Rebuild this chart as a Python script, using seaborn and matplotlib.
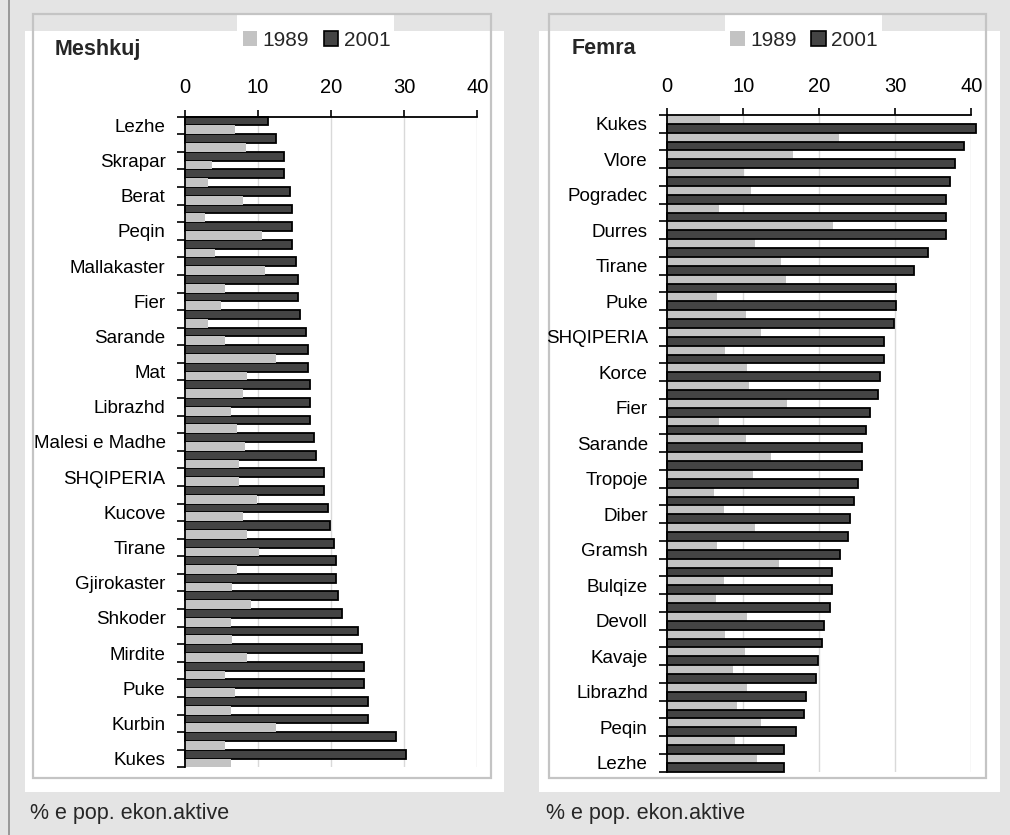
import matplotlib
matplotlib.use("Agg")
import matplotlib.pyplot as plt
import matplotlib.colors as mcolors
import seaborn as sns
import pandas as pd
from matplotlib.patches import Rectangle, Patch
from matplotlib.lines import Line2D

# Meshkuj (men), top to bottom; only every other row carries a label
m_labels = ["Lezhe", "", "Skrapar", "", "Berat", "", "Peqin", "", "Mallakaster", "",
            "Fier", "", "Sarande", "", "Mat", "", "Librazhd", "", "Malesi e Madhe", "",
            "SHQIPERIA", "", "Kucove", "", "Tirane", "", "Gjirokaster", "", "Shkoder", "",
            "Mirdite", "", "Puke", "", "Kurbin", "", "Kukes"]
m1989 = [6.8, 8.4, 3.7, 3.2, 7.9, 2.7, 10.5, 4.1, 10.9, 5.5, 4.9, 3.2, 5.5, 12.5, 8.5,
         8.0, 6.3, 7.1, 8.2, 7.4, 7.4, 9.8, 8.0, 8.5, 10.1, 7.1, 6.5, 9.0, 6.3, 6.5,
         8.5, 5.5, 6.8, 6.3, 12.5, 5.5, 6.3]
m2001 = [11.3, 12.4, 13.5, 13.5, 14.4, 14.6, 14.6, 14.6, 15.2, 15.4, 15.4, 15.7, 16.5,
         16.8, 16.8, 17.1, 17.1, 17.1, 17.6, 17.9, 19.0, 19.0, 19.6, 19.8, 20.4, 20.7,
         20.7, 20.9, 21.5, 23.7, 24.2, 24.5, 24.5, 25.0, 25.0, 28.9, 30.2]

# Femra (women)
f_labels = ["Kukes", "", "Vlore", "", "Pogradec", "", "Durres", "", "Tirane", "",
            "Puke", "", "SHQIPERIA", "", "Korce", "", "Fier", "", "Sarande", "",
            "Tropoje", "", "Diber", "", "Gramsh", "", "Bulqize", "", "Devoll", "",
            "Kavaje", "", "Librazhd", "", "Peqin", "", "Lezhe"]
f1989 = [6.9, 22.6, 16.6, 10.1, 11.0, 6.8, 21.8, 11.5, 15.0, 15.6, 6.5, 10.3, 12.3,
         7.6, 10.5, 10.8, 15.8, 6.8, 10.3, 13.6, 11.3, 6.1, 7.4, 11.5, 6.6, 14.7, 7.4,
         6.4, 10.5, 7.6, 10.2, 8.7, 10.5, 9.2, 12.3, 8.9, 11.8]
f2001 = [40.6, 39.1, 37.8, 37.2, 36.7, 36.7, 36.7, 34.3, 32.5, 30.1, 30.1, 29.8, 28.5,
         28.5, 28.0, 27.7, 26.7, 26.1, 25.6, 25.6, 25.1, 24.6, 24.0, 23.8, 22.7, 21.7,
         21.7, 21.4, 20.6, 20.4, 19.8, 19.6, 18.2, 18.0, 16.9, 15.4, 15.4]

years = ["1989", "2001"]
x_ticks = [0, 10, 20, 30, 40]
footer = "% e pop. ekon.aktive"

W, H = 1010, 835
LIGHT = "#c3c3c3"
DARK = "#444444"
BG = "#e4e4e4"

sns.set_style("white")
plt.rcParams["font.family"] = ["Liberation Sans", "DejaVu Sans"]

fig = plt.figure(figsize=(W / 100, H / 100), dpi=100, facecolor=BG)


def box(x0, y0, x1, y1, **kw):
    # pixel box, measured from top-left of the picture
    r = Rectangle((x0 / W, 1 - y1 / H), (x1 - x0) / W, (y1 - y0) / H,
                  transform=fig.transFigure, figure=fig, zorder=-5, **kw)
    fig.patches.append(r)


def panel(rect, labels, v1989, v2001, hue_order, title, title_x, leg_x, foot_x):
    n = len(labels)
    slots = [str(i) for i in range(n)]
    df = pd.DataFrame({
        "slot": slots + slots,
        "val": v1989 + v2001,
        "year": [years[0]] * n + [years[1]] * n,
    })
    ax = fig.add_axes(rect)
    sns.barplot(data=df, x="val", y="slot", hue="year", order=slots,
                hue_order=hue_order, palette={years[0]: LIGHT, years[1]: DARK},
                width=1.0, gap=0, dodge=True, errorbar=None, legend=False,
                saturation=1, edgecolor="none", linewidth=0, ax=ax)
    dark_rgba = mcolors.to_rgba(DARK)
    for cont in ax.containers:
        for bar in cont:
            bar.set_clip_on(False)
            if tuple(bar.get_facecolor()) == dark_rgba:
                bar.set_edgecolor("black")
                bar.set_linewidth(1.3)

    ax.set_facecolor("white")
    ax.set_xlim(0, 40)
    ax.set_xticks(x_ticks)
    ax.xaxis.tick_top()
    ax.tick_params(axis="x", top=True, bottom=False, direction="out", length=5,
                   width=1.2, labelsize=14.5, pad=9, colors="black")
    ax.set_yticks(range(n), labels)
    ax.set_yticks([i - 0.5 for i in range(n + 1)], minor=True)
    ax.tick_params(axis="y", which="major", left=False, length=0, labelsize=13.5,
                   pad=14, colors="black")
    ax.tick_params(axis="y", which="minor", left=True, direction="out", length=6,
                   width=1.2, color="black")
    ax.set_ylim(n - 0.5, -0.5)
    ax.grid(axis="x", color="#d9d9d9", lw=1)
    ax.grid(axis="y", visible=False)
    ax.set_axisbelow(True)
    for side in ["right", "bottom"]:
        ax.spines[side].set_visible(False)
    for side in ["top", "left"]:
        ax.spines[side].set_visible(True)
        ax.spines[side].set_color("black")
        ax.spines[side].set_linewidth(1.3)
    ax.set_xlabel("")
    ax.set_ylabel("")

    handles = [Patch(facecolor=LIGHT, edgecolor="none"),
               Patch(facecolor=DARK, edgecolor="black", linewidth=1.2)]
    fig.legend(handles, years, loc="center", bbox_to_anchor=(leg_x / W, 1 - 40 / H),
               ncol=2, frameon=False, fontsize=15, handlelength=0.7,
               handleheight=0.7, handletextpad=0.25, columnspacing=0.7,
               borderpad=0)
    fig.text(title_x / W, 1 - 49 / H, title, fontsize=15.5, fontweight="bold",
             va="center", ha="left")
    fig.text(foot_x / W, 1 - 813 / H, footer, fontsize=15.5, va="center", ha="left")
    return ax


# page background pieces
box(25, 31, 504, 792, facecolor="white", edgecolor="none")
box(539, 31, 1000, 792, facecolor="white", edgecolor="none")
box(237, 14, 394, 31, facecolor="white", edgecolor="none")
box(725, 14, 882, 31, facecolor="white", edgecolor="none")
box(33, 14, 491, 778, facecolor="none", edgecolor="#c4c4c4", linewidth=1.6)
box(549, 14, 986, 778, facecolor="none", edgecolor="#c4c4c4", linewidth=1.6)
fig.add_artist(Line2D([8.5 / W, 8.5 / W], [0, 1], color="#8a8a8a", lw=1.2,
                      transform=fig.transFigure))

panel([185 / W, 1 - 767.3 / H, 292.3 / W, 650.6 / H], m_labels, m1989, m2001,
      ["2001", "1989"], "Meshkuj", 55, 316.5, 30)
panel([667.3 / W, 1 - 771.7 / H, 304 / W, 656.7 / H], f_labels, f1989, f2001,
      ["1989", "2001"], "Femra", 572, 804, 546)

fig.savefig("out.png", dpi=100, facecolor=fig.get_facecolor())
